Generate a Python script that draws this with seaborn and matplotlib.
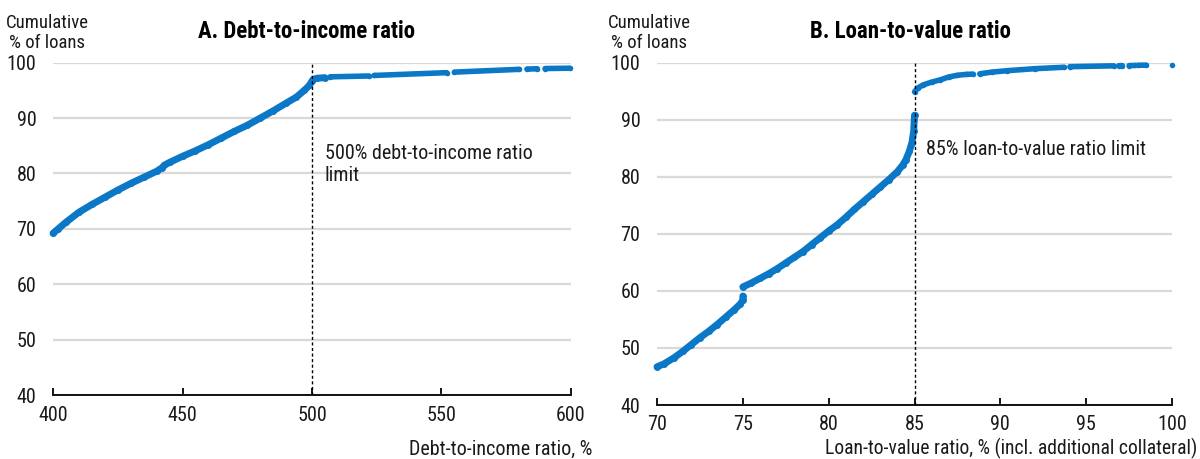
import matplotlib
matplotlib.use("Agg")
import matplotlib.pyplot as plt
import numpy as np
import pandas as pd
import seaborn as sns

# ---- Panel A: debt-to-income ratio (%), cumulative share of loans (%) ----
dti_main_x = [400, 402, 405, 410, 415, 420, 425, 430, 435, 440, 442, 443, 445,
              450, 455, 460, 465, 470, 475, 480, 485, 490, 494, 497, 499, 500,
              500.5, 502, 505]
dti_main_y = [69.2, 70.0, 71.2, 73.0, 74.4, 75.7, 77.0, 78.2, 79.3, 80.4, 81.0,
              81.5, 82.0, 83.1, 84.1, 85.2, 86.4, 87.6, 88.7, 90.0, 91.3, 92.7,
              93.8, 95.0, 95.9, 96.7, 97.0, 97.2, 97.3]
dti_tail_x = [[507, 522], [524, 552], [555, 580], [583, 587], [590, 599.5]]
dti_tail_y = [[97.45, 97.6], [97.7, 98.2], [98.3, 98.8], [98.85, 98.9], [98.95, 99.0]]
dti_limit = 500
dti_ticks = [400, 450, 500, 550, 600]

# ---- Panel B: loan-to-value ratio (%), cumulative share of loans (%) ----
ltv_low_x = [70.0, 70.4, 71.0, 71.5, 72.0, 72.5, 73.0, 73.5, 74.0, 74.5, 74.85, 75.0, 75.0]
ltv_low_y = [46.7, 47.2, 48.3, 49.4, 50.6, 51.8, 52.9, 54.1, 55.4, 56.7, 57.7, 58.4, 59.1]
ltv_mid_x = [75.0, 75.5, 76.0, 76.5, 77.0, 77.5, 78.0, 78.5, 79.0, 79.5, 80.0, 80.5,
             81.0, 81.5, 82.0, 82.5, 83.0, 83.5, 84.0, 84.3, 84.5, 84.7, 84.85,
             84.95, 85.0]
ltv_mid_y = [60.7, 61.4, 62.2, 63.0, 63.9, 64.9, 65.9, 66.9, 68.1, 69.3, 70.5, 71.6,
             72.9, 74.3, 75.6, 76.9, 78.2, 79.5, 80.9, 82.0, 83.0, 84.5, 86.0,
             88.0, 90.8]
ltv_tail_x = [[85.0, 85.2, 85.5, 86.0, 86.5, 87.0, 87.5, 88.0, 88.4],
              [88.8, 89.5, 90.4, 92.0, 93.7],
              [94.05, 96.6], [96.9, 97.1], [97.5, 97.85], [98.0, 98.5], [100.0]]
ltv_tail_y = [[94.9, 95.6, 96.1, 96.6, 97.0, 97.5, 97.8, 97.95, 98.0],
              [98.05, 98.35, 98.6, 98.95, 99.2],
              [99.3, 99.45], [99.48, 99.5], [99.5, 99.52], [99.55, 99.57], [99.65]]
ltv_limit = 85
ltv_ticks = [70, 75, 80, 85, 90, 95, 100]

y_ticks = [40, 50, 60, 70, 80, 90, 100]

BLUE = "#0a78c6"
GRID = "#d9d9d9"
TEXT = "#1a1a1a"
FS = 14.5

sns.set_theme(style="white")
plt.rcParams["font.family"] = ["Roboto Condensed", "Liberation Sans", "DejaVu Sans"]
plt.rcParams["axes.unicode_minus"] = False


def pieces_frame(xs_list, ys_list):
    rows = []
    for i, (xs, ys) in enumerate(zip(xs_list, ys_list)):
        for x, y in zip(xs, ys):
            rows.append({"x": x, "y": y, "piece": i})
    return pd.DataFrame(rows)


def draw_pieces(ax, df, lw):
    sns.lineplot(data=df, x="x", y="y", units="piece", estimator=None, sort=False,
                 color=BLUE, lw=lw, marker="o", markersize=lw, markeredgewidth=0,
                 solid_capstyle="round", solid_joinstyle="round", ax=ax,
                 legend=False, zorder=2, clip_on=False)


def style_axes(ax, xlim, xticks, label_pad):
    ax.set_xlim(*xlim)
    ax.set_ylim(40, 100)
    ax.set_xticks(xticks)
    ax.set_yticks(y_ticks)
    ax.set_xlabel("")
    ax.set_ylabel("")
    for s in ("left", "top", "right"):
        ax.spines[s].set_visible(False)
    ax.spines["bottom"].set_color("black")
    ax.spines["bottom"].set_linewidth(1.3)
    ax.yaxis.grid(True, color=GRID, lw=1.6)
    ax.xaxis.grid(False)
    ax.set_axisbelow(True)
    ax.tick_params(axis="x", direction="in", length=5, width=1.3, color="black",
                   labelsize=FS, pad=label_pad, labelcolor=TEXT, bottom=True)
    ax.tick_params(axis="y", length=0, labelsize=FS, pad=12, labelcolor=TEXT)


fig = plt.figure(figsize=(12, 4.59), dpi=100)
ax1 = fig.add_axes([0.0442, 0.1394, 0.4316, 0.7240])
ax2 = fig.add_axes([0.5475, 0.1176, 0.4292, 0.7458])

# Panel A
draw_pieces(ax1, pieces_frame([dti_main_x], [dti_main_y]), 5.0)
draw_pieces(ax1, pieces_frame(dti_tail_x, dti_tail_y), 4.0)
ax1.axvline(dti_limit, color="black", ls=(0, (2.2, 1.8)), lw=1.0, zorder=3)
ax1.text(505, 85.4, "500% debt-to-income ratio\nlimit", fontsize=FS, color=TEXT,
         ha="left", va="top", linespacing=1.2)
style_axes(ax1, (400, 600), dti_ticks, 8)

# Panel B
draw_pieces(ax2, pieces_frame([ltv_low_x, ltv_mid_x], [ltv_low_y, ltv_mid_y]), 5.0)
draw_pieces(ax2, pieces_frame(ltv_tail_x, ltv_tail_y), 4.0)
ax2.axvline(ltv_limit, color="black", ls=(0, (2.2, 1.8)), lw=1.0, zorder=3)
ax2.text(85.67, 84.7, "85% loan-to-value ratio limit", fontsize=FS, color=TEXT,
         ha="left", va="center")
style_axes(ax2, (70, 100), ltv_ticks, 7.5)

# Titles, y-axis captions and x-axis captions
fig.text(306 / 1200, 1 - 31 / 459, "A. Debt-to-income ratio", fontsize=16.5,
         fontweight="bold", ha="center", va="center", color="black")
fig.text(910 / 1200, 1 - 31 / 459, "B. Loan-to-value ratio", fontsize=16.5,
         fontweight="bold", ha="center", va="center", color="black")
for cx in (47, 649):
    fig.text(cx / 1200, 1 - 33 / 459, "Cumulative\n% of loans", fontsize=13.5,
             ha="center", va="center", multialignment="center", linespacing=1.15,
             color=TEXT)
fig.text(592 / 1200, 1 - 449 / 459, "Debt-to-income ratio, %", fontsize=FS,
         ha="right", va="center", color=TEXT)
fig.text(1197 / 1200, 1 - 448 / 459, "Loan-to-value ratio, % (incl. additional collateral)",
         fontsize=14.1, ha="right", va="center", color=TEXT)

fig.savefig("out.png", dpi=100)
